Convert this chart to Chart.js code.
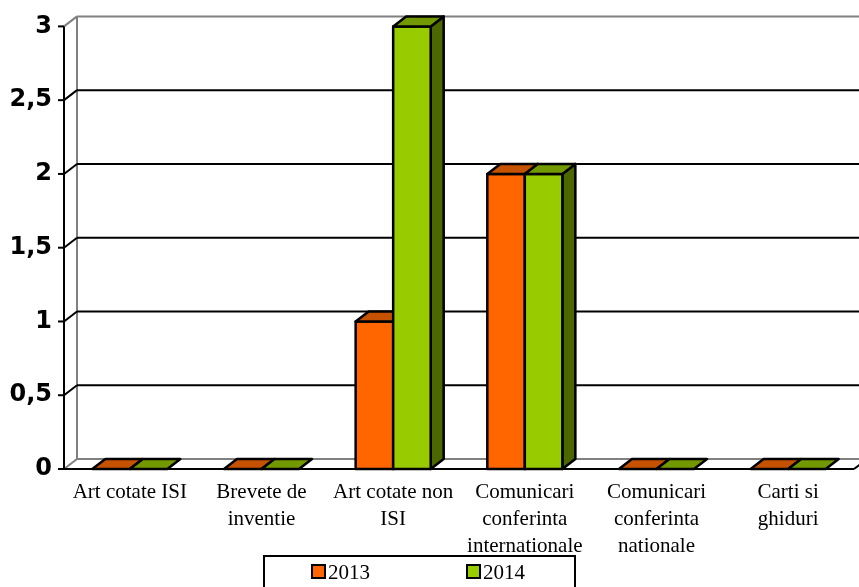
<!DOCTYPE html>
<html>
<head>
<meta charset="utf-8">
<script src="https://cdn.jsdelivr.net/npm/chart.js"></script>
<style>
    body { margin: 0; background: #fff; }
    .chart-box { width: 859px; height: 587px; }
</style>
</head>
<body>
<div class="chart-box"><canvas id="grafic"></canvas></div>
<script>
// datele graficului
const categorii = [
    ["Art cotate ISI"],
    ["Brevete de", "inventie"],
    ["Art cotate non", "ISI"],
    ["Comunicari", "conferinta", "internationale"],
    ["Comunicari", "conferinta", "nationale"],
    ["Carti si", "ghiduri"]
];
const serii = ["2013", "2014"];
const valori2013 = [0, 0, 1, 2, 0, 0];
const valori2014 = [0, 0, 3, 2, 0, 0];
const ticksY = [0, 0.5, 1, 1.5, 2, 2.5, 3];

const culori = [
    { fata: "#FF6600", sus: "#C45200", lateral: "#803300" },
    { fata: "#99CC00", sus: "#739900", lateral: "#4C6600" }
];

const DX = 13, DY = -10;

function linie(ctx, x1, y1, x2, y2, col, w) {
    ctx.beginPath();
    ctx.moveTo(x1, y1);
    ctx.lineTo(x2, y2);
    ctx.strokeStyle = col;
    ctx.lineWidth = w;
    ctx.stroke();
}

function poligon(ctx, pts, fill) {
    ctx.beginPath();
    ctx.moveTo(pts[0][0], pts[0][1]);
    for (let i = 1; i < pts.length; i++) ctx.lineTo(pts[i][0], pts[i][1]);
    ctx.closePath();
    ctx.fillStyle = fill;
    ctx.fill();
    ctx.strokeStyle = "#000";
    ctx.lineWidth = 2.5;
    ctx.stroke();
}

const efect3d = {
    id: "efect3d",
    beforeDatasetsDraw(chart) {
        const ctx = chart.ctx;
        const a = chart.chartArea;
        const y = chart.scales.y;
        ctx.save();
        ctx.lineJoin = "round";
        // perete stanga + podea
        linie(ctx, a.left + DX, a.top + DY, a.left + DX, a.bottom + DY, "#808080", 2);
        linie(ctx, a.left, a.bottom, a.left + DX, a.bottom + DY, "#808080", 2);
        linie(ctx, a.left + DX, a.bottom + DY, a.right + DX, a.bottom + DY, "#808080", 2);
        // liniile de grila
        ticksY.forEach(v => {
            const py = y.getPixelForValue(v);
            if (v > 0) {
                const col = v === 3 ? "#808080" : "#000";
                linie(ctx, a.left, py, a.left + DX, py + DY, col, 2);
                linie(ctx, a.left + DX, py + DY, a.right + DX, py + DY, col, 2);
            }
            linie(ctx, a.left - 6, py, a.left, py, "#000", 2);
        });
        linie(ctx, a.left, a.top, a.left, a.bottom + 1, "#000", 2);
        linie(ctx, a.left, a.bottom, a.right, a.bottom, "#000", 2);
        linie(ctx, a.right, a.bottom, a.right + DX, a.bottom + DY, "#000", 2);
        ctx.restore();
    },
    afterDatasetsDraw(chart) {
        const ctx = chart.ctx;
        ctx.save();
        ctx.lineJoin = "round";
        const n = categorii.length;
        for (let i = 0; i < n; i++) {
            chart.data.datasets.forEach((ds, d) => {
                const bar = chart.getDatasetMeta(d).data[i];
                const p = bar.getProps(["x", "y", "base", "width"], true);
                const x1 = p.x - p.width / 2, x2 = p.x + p.width / 2;
                const top = p.y, base = p.base;
                const c = culori[d];
                if (base - top > 0.5) {
                    poligon(ctx, [[x2, top], [x2 + DX, top + DY], [x2 + DX, base + DY], [x2, base]], c.lateral);
                    poligon(ctx, [[x1, top], [x2, top], [x2, base], [x1, base]], c.fata);
                }
                poligon(ctx, [[x1, top], [x2, top], [x2 + DX, top + DY], [x1 + DX, top + DY]], c.sus);
            });
        }
        ctx.restore();
    },
    afterDraw(chart) {
        // legenda cu chenar
        const ctx = chart.ctx;
        ctx.save();
        ctx.strokeStyle = "#000";
        ctx.lineWidth = 2;
        ctx.strokeRect(264, 556, 311, 40);
        ctx.font = "21px 'Liberation Serif'";
        ctx.textBaseline = "alphabetic";
        const pozX = [312, 467];
        serii.forEach((s, d) => {
            ctx.fillStyle = culori[d].fata;
            ctx.fillRect(pozX[d], 565, 13, 13);
            ctx.strokeRect(pozX[d], 565, 13, 13);
            ctx.fillStyle = "#000";
            ctx.fillText(s, pozX[d] + 16, 579);
        });
        ctx.restore();
    }
};

new Chart(document.getElementById("grafic"), {
    type: "bar",
    data: {
        labels: categorii,
        datasets: [
            { label: serii[0], data: valori2013, backgroundColor: "rgba(0,0,0,0)", borderWidth: 0 },
            { label: serii[1], data: valori2014, backgroundColor: "rgba(0,0,0,0)", borderWidth: 0 }
        ]
    },
    options: {
        responsive: true,
        maintainAspectRatio: false,
        animation: false,
        events: [],
        categoryPercentage: 0.57,
        barPercentage: 1,
        layout: { padding: { top: 25, right: 5, left: 0, bottom: 0 } },
        plugins: {
            legend: { display: false },
            tooltip: { enabled: false }
        },
        scales: {
            x: {
                grid: { display: false, drawTicks: false },
                border: { display: false },
                ticks: {
                    color: "#000",
                    autoSkip: false,
                    maxRotation: 0,
                    padding: 10,
                    font: { family: "'Liberation Serif'", size: 21, lineHeight: 1.29 }
                },
                afterFit(scale) { scale.height = 118; }
            },
            y: {
                min: 0,
                max: 3,
                grid: { display: false, drawTicks: false },
                border: { display: false },
                ticks: {
                    stepSize: 0.5,
                    color: "#000",
                    padding: 12,
                    font: { family: "'DejaVu Sans'", size: 24, weight: "bold" },
                    callback: v => String(v).replace(".", ",")
                },
                afterFit(scale) { scale.width = 64; }
            }
        }
    },
    plugins: [efect3d]
});
</script>
</body>
</html>
